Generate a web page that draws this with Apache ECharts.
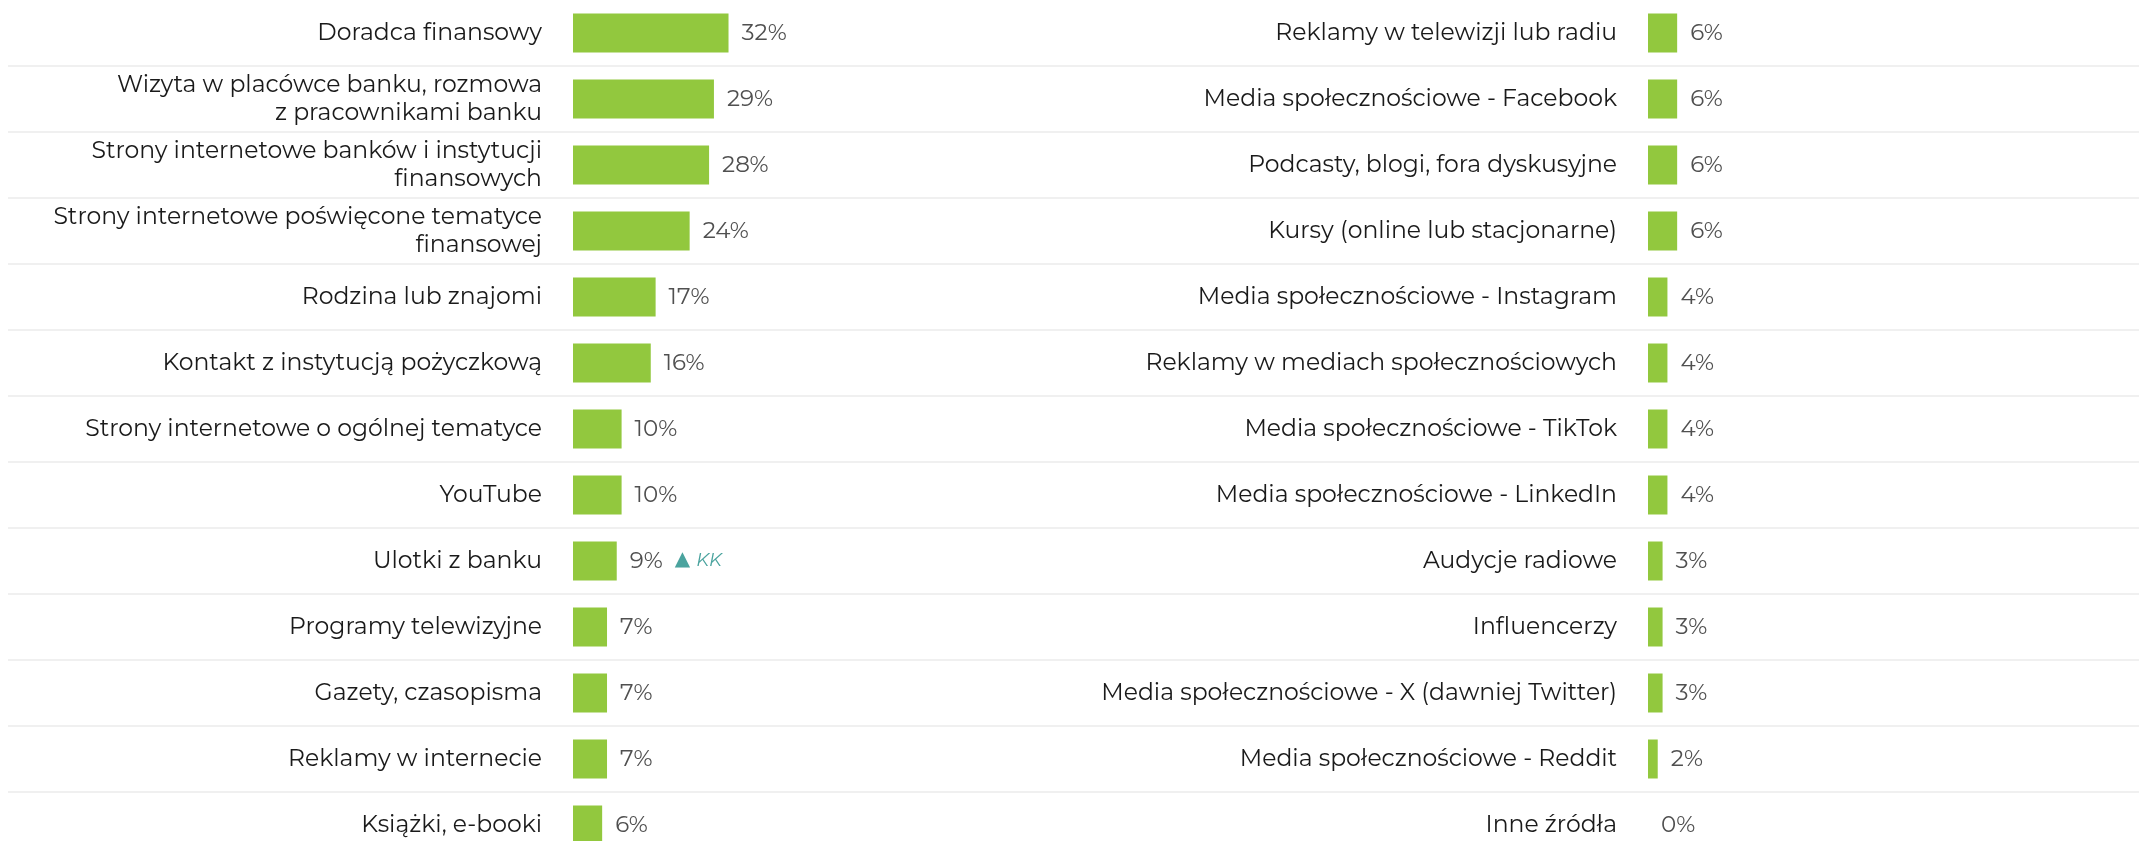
<!DOCTYPE html>
<html>
<head>
<meta charset="utf-8">
<script src="https://cdn.jsdelivr.net/npm/echarts@6/dist/echarts.min.js"></script>
<style>
html,body{margin:0;padding:0;background:#fff;}
#c{width:2139px;height:841px;}
</style>
</head>
<body>
<div id="c"></div>
<script>
const leftCategories = [
  "Doradca finansowy",
  "Wizyta w placówce banku, rozmowa\nz pracownikami banku",
  "Strony internetowe banków i instytucji\nfinansowych",
  "Strony internetowe poświęcone tematyce\nfinansowej",
  "Rodzina lub znajomi",
  "Kontakt z instytucją pożyczkową",
  "Strony internetowe o ogólnej tematyce",
  "YouTube",
  "Ulotki z banku",
  "Programy telewizyjne",
  "Gazety, czasopisma",
  "Reklamy w internecie",
  "Książki, e-booki"
];
const leftValues = [32, 29, 28, 24, 17, 16, 10, 10, 9, 7, 7, 7, 6];
const leftNotes = ["", "", "", "", "", "", "", "", "KK", "", "", "", ""];

const rightCategories = [
  "Reklamy w telewizji lub radiu",
  "Media społecznościowe - Facebook",
  "Podcasty, blogi, fora dyskusyjne",
  "Kursy (online lub stacjonarne)",
  "Media społecznościowe - Instagram",
  "Reklamy w mediach społecznościowych",
  "Media społecznościowe - TikTok",
  "Media społecznościowe - LinkedIn",
  "Audycje radiowe",
  "Influencerzy",
  "Media społecznościowe - X (dawniej Twitter)",
  "Media społecznościowe - Reddit",
  "Inne źródła"
];
const rightValues = [6, 6, 6, 6, 4, 4, 4, 4, 3, 3, 3, 2, 0];

const FONT = "Montserrat, Inter, 'Open Sans', sans-serif";
const BAR = "#92c83e";
const ROWS = 13, ROW_H = 66;

function yCat(data, gridIndex, showLabel) {
  return {
    type: 'category', gridIndex, data, inverse: true,
    axisLine: {show: false}, axisTick: {show: false},
    splitLine: {show: false},
    axisLabel: showLabel ? {
      show: true, margin: 31, color: '#1a1a1a', fontSize: 23.5,
      fontFamily: FONT, lineHeight: 28, align: 'right'
    } : {show: false}
  };
}
function xVal(gridIndex) {
  return {type: 'value', gridIndex, min: 0, max: 100, show: false, splitLine: {show: false}};
}
const valueLabel = {
  show: true, position: 'right', distance: 13,
  fontFamily: FONT, fontSize: 23, color: '#505050',
  rich: {
    v: {fontFamily: FONT, fontSize: 23, color: '#505050'},
    up: {fontFamily: "'DejaVu Sans'", fontSize: 20, color: '#4aa39e', padding: [0, 0, 2, 0]},
    kk: {fontFamily: FONT, fontSize: 18, color: '#4aa39e', fontStyle: 'italic'}
  }
};

const sepCats = leftCategories.map((_, i) => String(i));

const option = {
  animation: false,
  backgroundColor: '#ffffff',
  grid: [
    {left: 573, width: 486, top: 0, height: ROWS * ROW_H, outerBoundsMode: 'none', containLabel: false},
    {left: 1648, width: 486, top: 0, height: ROWS * ROW_H, outerBoundsMode: 'none', containLabel: false},
    {left: 8, right: 0, top: 0, height: ROWS * ROW_H, outerBoundsMode: 'none', containLabel: false}
  ],
  xAxis: [xVal(0), xVal(1), xVal(2)],
  yAxis: [
    yCat(leftCategories, 0, true),
    yCat(rightCategories, 1, true),
    {
      type: 'category', gridIndex: 2, data: sepCats, inverse: true,
      axisLine: {show: false}, axisTick: {show: false}, axisLabel: {show: false},
      splitLine: {show: true, lineStyle: {color: '#f0f0f0', width: 2},
        interval: function (i) { return i > 0; }}
    }
  ],
  series: [
    {
      type: 'bar', xAxisIndex: 0, yAxisIndex: 0, barWidth: 39,
      itemStyle: {color: BAR},
      data: leftValues,
      label: Object.assign({}, valueLabel, {
        formatter: function (p) {
          const note = leftNotes[p.dataIndex];
          return note ? '{v|' + p.value + '%}  {up|▲} {kk|' + note + '}' : '{v|' + p.value + '%}';
        }
      })
    },
    {
      type: 'bar', xAxisIndex: 1, yAxisIndex: 1, barWidth: 39,
      itemStyle: {color: BAR},
      data: rightValues,
      label: Object.assign({}, valueLabel, {formatter: '{v|{c}%}'})
    }
  ]
};
const chart = echarts.init(document.getElementById('c'), null, {renderer: 'canvas'});
chart.setOption(option);
</script>
</body>
</html>
